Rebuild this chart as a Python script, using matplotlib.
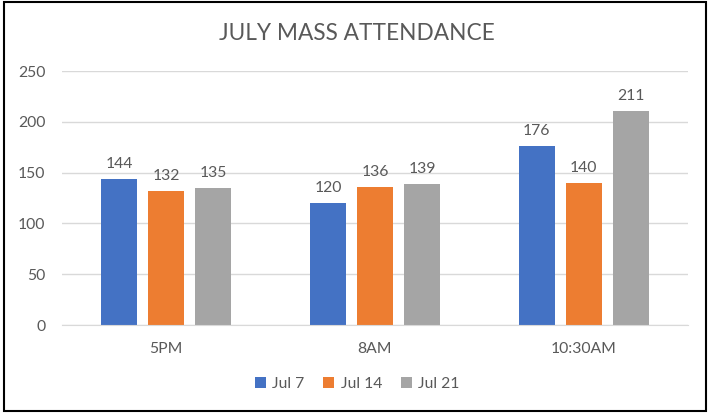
import matplotlib.pyplot as plt
import numpy as np
from matplotlib.patches import Rectangle

categories = ['5PM', '8AM', '10:30AM']
series_names = ['Jul 7', 'Jul 14', 'Jul 21']
jul7 = [144, 120, 176]
jul14 = [132, 136, 140]
jul21 = [135, 139, 211]

colors = ['#4472C4', '#ED7D31', '#A5A5A5']
text_c = '#595959'

plt.rcParams['font.family'] = ['Lato', 'DejaVu Sans']

fig = plt.figure(figsize=(7.1, 4.13), dpi=100)
ax = fig.add_axes([0.0873, 0.213, 0.8817, 0.615])

x = np.arange(len(categories))
w = 0.173
step = 0.225
for i, (vals, name) in enumerate(zip([jul7, jul14, jul21], series_names)):
    bars = ax.bar(x + (i - 1) * step, vals, width=w, color=colors[i], label=name, zorder=2)
    for b, v in zip(bars, vals):
        ax.text(b.get_x() + b.get_width() / 2, v + 8, str(v), ha='center', va='bottom',
                fontsize=11.3, color=text_c)

ax.set_xlim(-0.5, 2.5)
ax.set_ylim(0, 250)
ax.set_yticks(range(0, 251, 50))
ax.set_xticks(x)
ax.set_xticklabels(categories)
ax.tick_params(axis='both', length=0, labelsize=11.3, labelcolor=text_c)
ax.tick_params(axis='y', pad=12)
ax.tick_params(axis='x', pad=12)
ax.grid(axis='y', color='#D9D9D9', lw=1, zorder=0)
for s in ['top', 'right', 'left']:
    ax.spines[s].set_visible(False)
ax.spines['bottom'].set_color('#D9D9D9')

fig.text(0.503, 0.92, 'JULY MASS ATTENDANCE', ha='center', va='center', fontsize=16.3,
         color=text_c)

fig.legend(loc='center', bbox_to_anchor=(0.503, 0.07), ncol=3, frameon=False, fontsize=11.3,
           handlelength=0.7, handleheight=0.7, handletextpad=0.4, columnspacing=1.2,
           labelcolor=text_c)

fig.patches.append(Rectangle((0.005, 0.006), 0.99, 0.99, transform=fig.transFigure,
                             fill=False, edgecolor='black', lw=1.5))

plt.savefig('out.png', dpi=100)
